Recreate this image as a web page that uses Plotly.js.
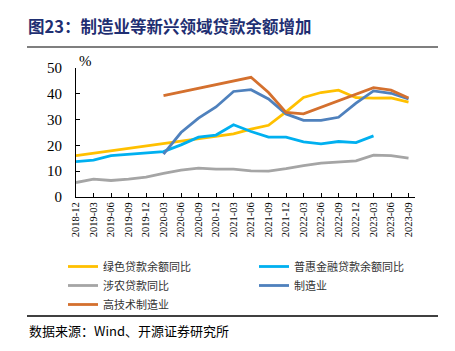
<!DOCTYPE html>
<html><head><meta charset="utf-8">
<script src="https://cdn.plot.ly/plotly-3.0.1.min.js"></script>
<style>html,body{margin:0;padding:0;background:#fff;}#chart{width:455px;height:351px;}</style>
</head><body><div id="chart"></div>
<script>
var categories = ['2018-12','2019-03','2019-06','2019-09','2019-12','2020-03','2020-06','2020-09','2020-12','2021-03','2021-06','2021-09','2021-12','2022-03','2022-06','2022-09','2022-12','2023-03','2023-06','2023-09'];
var greenLoans = [16.0,null,null,null,null,null,null,null,null,24.5,26.3,27.8,33.0,38.6,40.5,41.4,38.5,38.3,38.4,36.8];
var inclusiveLoans = [13.7,14.3,16.0,16.6,17.1,17.6,20.2,23.2,24.0,28.0,25.4,23.2,23.2,21.4,20.6,21.5,21.1,23.7,null,null];
var agriLoans = [5.6,6.9,6.4,6.9,7.7,9.2,10.4,11.2,10.8,10.8,10.1,10.0,11.0,12.2,13.1,13.6,14.0,16.2,16.0,15.1];
var manufacturing = [null,null,null,null,null,16.6,25.0,30.6,34.9,40.9,41.6,38.0,32.2,29.7,29.7,30.9,36.4,41.1,40.2,38.0];
var hiTech = [null,null,null,null,null,39.3,null,null,null,null,46.4,40.5,32.8,32.2,null,null,null,42.4,41.4,38.4];
var names = ['绿色贷款余额同比','普惠金融贷款余额同比','涉农贷款同比','制造业','高技术制造业'];
var colors = ['#FFC000','#00B0F0','#A5A5A5','#4F81BD','#D4702E'];
var legendOf = ['legend','legend2','legend','legend2','legend'];
var series = [greenLoans, inclusiveLoans, agriLoans, manufacturing, hiTech];

var W=455,H=351,L=76,R=40,T=68,B=154;
var pw=W-L-R, ph=H-T-B;
function px(x){return (x-L)/pw;}
function py(y){return (H-B-y)/ph;}

var traces = series.map(function(s,i){
  return {x:categories, y:s, name:names[i], type:'scatter', mode:'lines', legend:legendOf[i],
    connectgaps:true, line:{color:colors[i], width:2.8}, hoverinfo:'skip'};
});

var serif = 'Liberation Serif, Times New Roman, serif';
var cjk = 'Noto Sans CJK SC, sans-serif';
function legendAt(x){
  return {orientation:'v', xref:'container', yref:'container', x:x/W, xanchor:'left', y:1-252/H, yanchor:'top',
    font:{family:cjk, size:11, color:'#333'}, tracegroupgap:0, itemwidth:30, bgcolor:'rgba(0,0,0,0)', borderwidth:0};
}
var layout = {
  width:W, height:H, margin:{l:L,r:R,t:T,b:B,autoexpand:false},
  paper_bgcolor:'#fff', plot_bgcolor:'#fff', showlegend:true,
  title:{text:'<b>图23：制造业等新兴领域贷款余额增加</b>', x:28/W, xanchor:'left', xref:'container',
    y:1-27/H, yref:'container', yanchor:'middle', font:{family:cjk, size:16.5, color:'#1F2F72'}},
  xaxis:{type:'category', range:[0,19.37], showgrid:false, zeroline:false, showline:true, linecolor:'#000', linewidth:1,
    ticks:'inside', ticklen:4, tickcolor:'#000', tickangle:-90, tickfont:{family:serif, size:10.5, color:'#000'},
    tickmode:'array', tickvals:categories, ticktext:categories, fixedrange:true, automargin:false},
  yaxis:{range:[0,50], dtick:10, showgrid:false, zeroline:false, showline:true, linecolor:'#000', linewidth:1,
    ticks:'inside', ticklen:4, tickcolor:'#000', tickfont:{family:serif, size:15, color:'#000'}, ticklabelstandoff:10, automargin:false},
  legend:legendAt(63),
  legend2:legendAt(254),
  shapes:[
    {type:'line', xref:'paper', yref:'paper', x0:px(27), x1:px(438), y0:py(47), y1:py(47), line:{color:'#7f7f7f', width:2}},
    {type:'line', xref:'paper', yref:'paper', x0:px(27), x1:px(438), y0:py(316), y1:py(316), line:{color:'#000', width:1.3}}
  ],
  annotations:[
    {text:'%', xref:'paper', yref:'paper', x:px(77), y:py(61), xanchor:'left', yanchor:'middle', showarrow:false,
      font:{family:serif, size:15, color:'#000'}},
    {text:'数据来源：Wind、开源证券研究所', xref:'paper', yref:'paper', x:px(27), y:py(330), xanchor:'left', yanchor:'middle',
      showarrow:false, font:{family:cjk, size:13, color:'#000'}}
  ]
};
Plotly.newPlot('chart', traces, layout, {staticPlot:true, displayModeBar:false});
</script></body></html>
